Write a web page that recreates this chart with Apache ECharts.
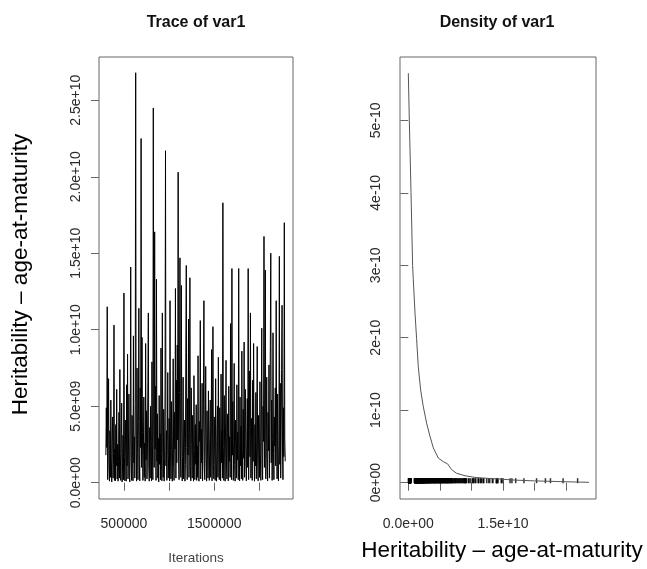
<!DOCTYPE html>
<html>
<head>
<meta charset="utf-8">
<script src="https://cdn.jsdelivr.net/npm/echarts@6/dist/echarts.min.js"></script>
<style>
html,body{margin:0;padding:0;background:#fff;}
#chart{width:647px;height:569px;}
</style>
</head>
<body>
<div id="chart"></div>
<script>
// ---------- DATA ----------
// Trace of var1: thinned MCMC samples (values in units of 1e9)
const traceStart = 300000;
const traceThin = 5000;
const traceUnit = 1e9;
const traceValues = [
  1.8, 4.9, 2.3, 11.5, 0.2, 2.9, 6.8, 1.2, 0.1, 3.4,
  0.35, 5.4, 1.6, 0.05, 2.7, 4.3, 0.3, 1.9, 10.3, 0.15,
  2.2, 0.12, 3.8, 1.1, 6.1, 0.25, 2.5, 0.1, 1.4, 4.6,
  0.3, 7.4, 1.9, 0.15, 2.6, 5.2, 0.05, 1.3, 3.1, 0.2,
  12.4, 1.7, 0.12, 4.1, 2.0, 0.1, 6.4, 1.1, 8.4, 0.25,
  2.4, 5.8, 0.35, 0.05, 3.5, 14.1, 1.6, 0.15, 4.4, 2.1,
  0.12, 9.6, 1.3, 3.0, 0.3, 5.1, 26.8, 1.9, 0.1, 7.5,
  2.8, 0.2, 4.0, 11.4, 1.2, 0.12, 6.2, 2.3, 22.5, 1.0,
  9.5, 3.3, 0.15, 1.8, 5.6, 0.35, 2.6, 0.1, 9.1, 1.5,
  4.7, 0.25, 2.0, 6.6, 11.1, 1.1, 0.1, 3.6, 0.3, 5.0,
  1.7, 0.12, 7.9, 2.5, 0.2, 24.5, 3.9, 1.0, 16.4, 2.2,
  6.3, 0.15, 13.3, 1.4, 4.5, 0.3, 2.9, 0.05, 5.7, 1.2,
  3.2, 0.2, 8.8, 1.9, 0.12, 11.1, 2.4, 0.35, 4.8, 0.1,
  1.6, 6.0, 21.7, 1.1, 3.4, 0.15, 2.7, 7.2, 0.3, 1.8,
  4.2, 0.12, 11.9, 2.1, 0.25, 5.3, 1.5, 0.1, 3.0, 8.1,
  1.0, 0.15, 4.6, 2.2, 12.7, 0.3, 6.7, 1.3, 9.0, 2.8,
  20.3, 1.4, 0.2, 5.9, 14.7, 2.0, 0.35, 12.9, 3.7, 0.12,
  1.7, 6.9, 0.25, 2.6, 4.1, 0.1, 1.2, 8.5, 14.2, 2.3,
  0.2, 5.5, 1.8, 10.7, 0.35, 3.3, 13.4, 1.1, 0.12, 6.2,
  2.5, 0.3, 4.4, 1.5, 0.1, 7.0, 2.1, 0.2, 3.8, 1.2,
  5.1, 0.15, 2.4, 0.35, 8.3, 1.6, 0.1, 4.0, 2.7, 10.6,
  0.25, 3.5, 1.3, 6.5, 0.12, 2.0, 5.2, 11.9, 1.0, 0.2,
  3.1, 7.6, 1.7, 0.1, 4.7, 2.2, 0.3, 6.0, 1.4, 0.15,
  2.9, 5.4, 0.35, 1.8, 8.7, 0.12, 3.6, 10.2, 1.2, 0.25,
  4.3, 2.0, 0.15, 6.8, 1.5, 0.1, 3.2, 5.0, 0.35, 8.2,
  1.9, 0.2, 4.9, 2.6, 0.12, 7.1, 1.3, 3.4, 0.3, 18.3,
  2.3, 0.15, 5.7, 1.6, 0.1, 3.9, 8.0, 1.1, 0.25, 4.5,
  2.8, 0.12, 6.3, 1.4, 3.0, 0.35, 10.4, 2.1, 0.2, 14.0,
  1.8, 5.3, 0.15, 2.7, 7.8, 1.2, 0.1, 4.1, 2.4, 0.3,
  6.4, 1.5, 3.3, 0.2, 14.0, 2.0, 0.12, 5.6, 1.1, 3.7,
  0.25, 8.6, 2.2, 0.15, 4.8, 1.6, 9.2, 0.35, 3.1, 6.1,
  1.3, 0.12, 2.9, 5.5, 1.0, 14.0, 0.2, 3.6, 7.3, 1.7,
  11.1, 0.3, 4.2, 2.5, 0.15, 6.7, 1.4, 9.1, 2.0, 0.1,
  3.8, 1.1, 5.9, 0.25, 2.6, 8.9, 1.5, 0.12, 4.4, 2.2,
  0.35, 6.6, 1.8, 0.15, 3.5, 10.1, 1.2, 0.2, 5.0, 2.7,
  16.1, 1.0, 3.9, 13.9, 0.25, 2.3, 6.9, 1.6, 0.12, 4.6,
  2.1, 7.7, 0.3, 3.2, 8.9, 15.0, 1.3, 5.4, 0.15, 2.8,
  9.8, 1.9, 0.2, 4.3, 2.4, 6.2, 1.1, 11.9, 3.0, 0.25,
  5.8, 1.5, 0.12, 2.6, 14.8, 1.2, 6.5, 0.3, 3.4, 7.4,
  11.6, 2.0, 0.2, 4.9, 1.7, 17.0, 2.9, 1.4
];

// Density of var1 (x in units of 1e9, density in units of 1e-10)
const densityUnitX = 1e9;
const densityUnitY = 1e-10;
const densityX = [0, 0.16, 0.43, 0.68, 0.79, 1.06, 1.31, 1.58, 1.95, 2.37, 2.90, 3.43, 3.96, 4.75, 5.54, 6.22, 6.85, 7.64, 8.97, 10.55, 12.5, 14.5, 17, 20, 24, 28.6];
const densityY = [5.65, 5.0, 4.0, 3.0, 2.8, 2.34, 1.99, 1.60, 1.28, 1.05, 0.82, 0.64, 0.48, 0.34, 0.29, 0.26, 0.18, 0.13, 0.096, 0.073, 0.06, 0.05, 0.035, 0.025, 0.015, 0.005];

// Ticks and labels
const traceXTicks = [500000, 1000000, 1500000, 2000000];
const traceXLabelValues = [500000, 1500000];
const traceXLabels = ['500000', '1500000'];
const traceYTicks = [0, 5e9, 1e10, 1.5e10, 2e10, 2.5e10];
const traceYLabels = ['0.0e+00', '5.0e+09', '1.0e+10', '1.5e+10', '2.0e+10', '2.5e+10'];
const densXTicks = [0, 5e9, 1e10, 1.5e10, 2e10, 2.5e10];
const densXLabelValues = [0, 1.5e10];
const densXLabels = ['0.0e+00', '1.5e+10'];
const densYTicks = [0, 1e-10, 2e-10, 3e-10, 4e-10, 5e-10];
const densYLabels = ['0e+00', '1e-10', '2e-10', '3e-10', '4e-10', '5e-10'];

const titleTrace = 'Trace of var1';
const titleDensity = 'Density of var1';
const xNameTrace = 'Iterations';
const axisTitle = 'Heritability \u2013 age-at-maturity';

// ---------- BUILD ----------
const tracePoints = traceValues.map((v, i) => [traceStart + i * traceThin, v * traceUnit]);
const densityPoints = densityX.map((x, i) => [x * densityUnitX, densityY[i] * densityUnitY]);
const rugPoints = traceValues.map(v => [v * traceUnit, 0]);

function lookup(ticks, labels) {
  return function (val) {
    let best = -1, bd = Infinity;
    for (let i = 0; i < ticks.length; i++) {
      const d = Math.abs(ticks[i] - val);
      if (d < bd) { bd = d; best = i; }
    }
    const tol = Math.abs(ticks[ticks.length - 1] - ticks[0]) * 1e-6;
    return bd <= tol ? labels[best] : '';
  };
}

const FONT = 'Liberation Sans, Arial, sans-serif';
const tickColor = '#666';
const labelColor = '#2a2a2a';

function xAxisCfg(gridIndex, min, max, tickVals, labelVals, labels) {
  return {
    type: 'value', gridIndex, min, max,
    axisLine: { show: false },
    splitLine: { show: false },
    axisTick: { show: true, inside: false, length: 8, lineStyle: { color: tickColor, width: 1 }, customValues: tickVals },
    axisLabel: { show: true, margin: 18, color: labelColor, fontSize: 14, fontFamily: FONT, customValues: labelVals, formatter: lookup(labelVals, labels) }
  };
}
function yAxisCfg(gridIndex, min, max, tickVals, labels, margin) {
  return {
    type: 'value', gridIndex, min, max,
    axisLine: { show: false },
    splitLine: { show: false },
    axisTick: { show: true, inside: false, length: 8, lineStyle: { color: tickColor, width: 1 }, customValues: tickVals },
    axisLabel: { show: true, rotate: 90, margin, color: labelColor, fontSize: 14, fontFamily: FONT, customValues: tickVals, formatter: lookup(tickVals, labels) }
  };
}

const chart = echarts.init(document.getElementById('chart'), null, { renderer: 'canvas' });
chart.setOption({
  backgroundColor: '#fff',
  animation: false,
  grid: [
    { left: 99, top: 57, width: 194, height: 442, show: true, borderColor: '#666', borderWidth: 1, backgroundColor: 'transparent' },
    { left: 400, top: 57, width: 196, height: 442, show: true, borderColor: '#666', borderWidth: 1, backgroundColor: 'transparent' }
  ],
  xAxis: [
    xAxisCfg(0, 224000, 2371000, traceXTicks, traceXLabelValues, traceXLabels),
    xAxisCfg(1, -1.316e9, 2.971e10, densXTicks, densXLabelValues, densXLabels)
  ],
  yAxis: [
    yAxisCfg(0, -1.065e9, 2.783e10, traceYTicks, traceYLabels, 16),
    yAxisCfg(1, -0.225e-10, 5.873e-10, densYTicks, densYLabels, 17)
  ],
  series: [
    {
      type: 'line', xAxisIndex: 0, yAxisIndex: 0, data: tracePoints,
      showSymbol: false, symbol: 'none', sampling: false, silent: true,
      lineStyle: { color: '#000', width: 1 }
    },
    {
      type: 'line', xAxisIndex: 1, yAxisIndex: 1, data: densityPoints,
      showSymbol: false, symbol: 'none', silent: true,
      lineStyle: { color: '#555', width: 1 }
    },
    {
      type: 'scatter', xAxisIndex: 1, yAxisIndex: 1, data: rugPoints,
      symbol: 'rect', symbolSize: [1.5, 5], symbolOffset: [0, -2], silent: true,
      itemStyle: { color: '#000' }
    }
  ],
  graphic: [
    { type: 'text', x: 196, y: 22.5, silent: true, style: { text: titleTrace, font: 'bold 16px ' + FONT, fill: '#111', align: 'center', verticalAlign: 'middle' } },
    { type: 'text', x: 497, y: 22.5, silent: true, style: { text: titleDensity, font: 'bold 16px ' + FONT, fill: '#111', align: 'center', verticalAlign: 'middle' } },
    { type: 'text', x: 196, y: 558, silent: true, style: { text: xNameTrace, font: '13.5px ' + FONT, fill: '#444', align: 'center', verticalAlign: 'middle' } },
    { type: 'text', x: 502, y: 551, silent: true, style: { text: axisTitle, font: '22.5px ' + FONT, fill: '#000', align: 'center', verticalAlign: 'middle' } },
    { type: 'text', x: 21, y: 274.5, rotation: Math.PI / 2, silent: true, style: { text: axisTitle, font: '22.5px ' + FONT, fill: '#000', align: 'center', verticalAlign: 'middle' } }
  ]
});
</script>
</body>
</html>
